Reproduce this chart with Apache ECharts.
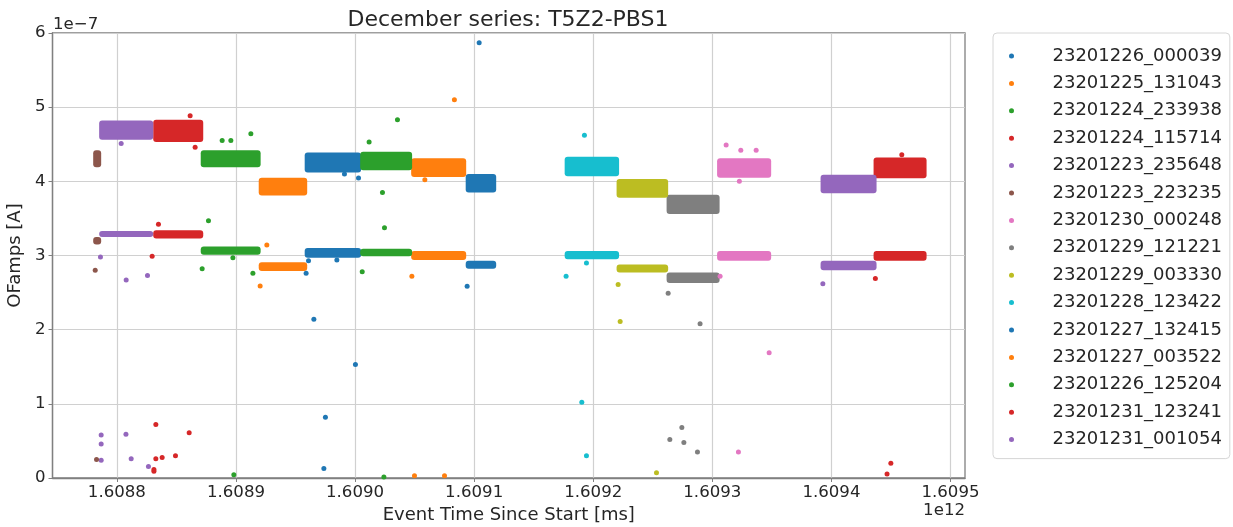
<!DOCTYPE html>
<html>
<head>
<meta charset="utf-8">
<script src="https://cdn.jsdelivr.net/npm/echarts@6.0.0/dist/echarts.min.js"></script>
<style>
  html, body { margin: 0; padding: 0; background: #ffffff; }
  #chart { width: 1233px; height: 527px; }
</style>
</head>
<body>
<div id="chart"></div>
<script>
// Run labels, in plotting / legend order
const runNames = [
  '23201226_000039', '23201225_131043', '23201224_233938', '23201224_115714',
  '23201223_235648', '23201223_223235', '23201230_000248', '23201229_121221',
  '23201229_003330', '23201228_123422', '23201227_132415', '23201227_003522',
  '23201226_125204', '23201231_123241', '23201231_001054'
];

// tab10 colour cycle
const palette = [
  '#1f77b4', '#ff7f0e', '#2ca02c', '#d62728', '#9467bd', '#8c564b', '#e377c2',
  '#7f7f7f', '#bcbd22', '#17becf', '#1f77b4', '#ff7f0e', '#2ca02c', '#d62728', '#9467bd'
];

// Time span of each run [ms]
const runStart = [
  1.6089577e12, 1.6089191e12, 1.6088704e12, 1.6088305e12, 1.6087851e12,
  1.6087801e12, 1.6093040e12, 1.6092616e12, 1.6092196e12, 1.6091760e12,
  1.6090929e12, 1.6090471e12, 1.6090043e12, 1.6094354e12, 1.6093909e12
];
const runEnd = [
  1.6090051e12, 1.6089598e12, 1.6089207e12, 1.6088725e12, 1.6088305e12,
  1.6087868e12, 1.6093494e12, 1.6093061e12, 1.6092629e12, 1.6092217e12,
  1.6091185e12, 1.6090933e12, 1.6090479e12, 1.6094799e12, 1.6094379e12
];

// Spread of the dense upper population of OF amplitudes [A]
const upperBand = [
  [4.12e-7, 4.39e-7], [3.81e-7, 4.05e-7], [4.19e-7, 4.42e-7], [4.53e-7, 4.83e-7],
  [4.56e-7, 4.82e-7], [4.19e-7, 4.42e-7], [4.05e-7, 4.31e-7], [3.56e-7, 3.82e-7],
  [3.78e-7, 4.03e-7], [4.07e-7, 4.33e-7], [3.85e-7, 4.10e-7], [4.06e-7, 4.31e-7],
  [4.15e-7, 4.40e-7], [4.04e-7, 4.32e-7], [3.84e-7, 4.09e-7]
];

// Spread of the dense lower population of OF amplitudes [A]
const lowerBand = [
  [2.97e-7, 3.10e-7], [2.79e-7, 2.91e-7], [3.01e-7, 3.12e-7], [3.23e-7, 3.34e-7],
  [3.25e-7, 3.33e-7], [3.15e-7, 3.25e-7], [2.93e-7, 3.06e-7], [2.63e-7, 2.77e-7],
  [2.77e-7, 2.88e-7], [2.95e-7, 3.06e-7], [2.82e-7, 2.93e-7], [2.94e-7, 3.06e-7],
  [2.99e-7, 3.09e-7], [2.93e-7, 3.06e-7], [2.80e-7, 2.93e-7]
];

// Isolated events away from the two populations: [time ms, amplitude A]
const strayPoints = [
  [[1.6089911e12, 4.10e-7], [1.6090029e12, 4.045e-7], [1.6089609e12, 2.93e-7],
   [1.6089589e12, 2.76e-7], [1.6089847e12, 2.94e-7], [1.6089654e12, 2.14e-7],
   [1.6090003e12, 1.53e-7], [1.6089751e12, 0.82e-7], [1.6089738e12, 0.127e-7]],
  [[1.6089259e12, 3.14e-7], [1.6089203e12, 2.59e-7]],
  [[1.6088884e12, 4.55e-7], [1.6088957e12, 4.55e-7], [1.6089125e12, 4.64e-7],
   [1.6088769e12, 3.47e-7], [1.6088974e12, 2.97e-7], [1.6088716e12, 2.82e-7],
   [1.6089142e12, 2.76e-7], [1.6088982e12, 0.045e-7]],
  [[1.6088615e12, 4.885e-7], [1.6088657e12, 4.46e-7], [1.6088349e12, 3.42e-7],
   [1.6088296e12, 2.99e-7], [1.6088327e12, 0.72e-7], [1.6088327e12, 0.26e-7],
   [1.6088380e12, 0.275e-7], [1.6088311e12, 0.113e-7], [1.6088311e12, 0.09e-7],
   [1.6088492e12, 0.30e-7], [1.6088607e12, 0.61e-7]],
  [[1.6088036e12, 4.51e-7], [1.6087862e12, 2.98e-7], [1.6088078e12, 2.67e-7],
   [1.6088257e12, 2.73e-7], [1.6087868e12, 0.58e-7], [1.6087868e12, 0.46e-7],
   [1.6087868e12, 0.24e-7], [1.6088076e12, 0.59e-7], [1.6088120e12, 0.26e-7],
   [1.6088265e12, 0.155e-7]],
  [[1.6087818e12, 2.80e-7], [1.6087829e12, 0.25e-7]],
  [[1.6093116e12, 4.49e-7], [1.6093239e12, 4.42e-7], [1.6093368e12, 4.42e-7],
   [1.6093227e12, 4.00e-7], [1.6093065e12, 2.72e-7], [1.6093477e12, 1.69e-7],
   [1.6093219e12, 0.35e-7]],
  [[1.6092629e12, 2.49e-7], [1.6092897e12, 2.08e-7], [1.6092744e12, 0.68e-7],
   [1.6092643e12, 0.52e-7], [1.6092761e12, 0.48e-7], [1.6092875e12, 0.35e-7]],
  [[1.6092209e12, 2.61e-7], [1.6092226e12, 2.11e-7], [1.6092531e12, 0.07e-7]],
  [[1.6091926e12, 4.62e-7], [1.6091772e12, 2.72e-7], [1.6091943e12, 2.90e-7],
   [1.6091904e12, 1.02e-7], [1.6091943e12, 0.30e-7]],
  [[1.6091042e12, 5.87e-7], [1.6090941e12, 2.585e-7]],
  [[1.6090834e12, 5.10e-7], [1.6090586e12, 4.02e-7], [1.6090477e12, 2.72e-7],
   [1.6090499e12, 0.03e-7], [1.6090751e12, 0.03e-7]],
  [[1.6090356e12, 4.83e-7], [1.6090118e12, 4.53e-7], [1.6090230e12, 3.85e-7],
   [1.6090247e12, 3.375e-7], [1.6090060e12, 2.78e-7], [1.6090242e12, 0.015e-7]],
  [[1.6094591e12, 4.36e-7], [1.6094369e12, 2.69e-7], [1.6094499e12, 0.20e-7],
   [1.6094467e12, 0.055e-7]],
  [[1.6093928e12, 2.62e-7]]
];

// Axis ranges and tick values
const xRange = [1.60874593e12, 1.60951217e12];
const xTicks = [1.6088e12, 1.6089e12, 1.6090e12, 1.6091e12, 1.6092e12, 1.6093e12, 1.6094e12, 1.6095e12];
const yRange = [0, 6e-7];
const yStep = 1e-7;

const FONT = 'DejaVu Sans';
const INK = '#262626';
const SPINE = '#808080';

const chart = echarts.init(document.getElementById('chart'), null, { renderer: 'canvas' });

const series = [];
runNames.forEach((name, i) => {
  const color = palette[i];
  // dense populations drawn as filled bands in data space
  series.push({
    name,
    type: 'custom',
    coordinateSystem: 'cartesian2d',
    itemStyle: { color },
    encode: { x: [0, 1], y: [2, 3] },
    data: [
      [runStart[i], runEnd[i], upperBand[i][0], upperBand[i][1]],
      [runStart[i], runEnd[i], lowerBand[i][0], lowerBand[i][1]]
    ],
    renderItem(params, api) {
      const a = api.coord([api.value(0), api.value(3)]);
      const b = api.coord([api.value(1), api.value(2)]);
      return {
        type: 'rect',
        shape: { x: a[0], y: a[1], width: b[0] - a[0], height: b[1] - a[1], r: 3 },
        style: { fill: color }
      };
    },
    silent: true
  });
  // isolated events
  series.push({
    name,
    type: 'scatter',
    symbol: 'circle',
    symbolSize: 5,
    itemStyle: { color, opacity: 1 },
    data: strayPoints[i],
    silent: true
  });
});

const option = {
  animation: false,
  backgroundColor: '#ffffff',
  grid: {
    left: 52.5, right: 268, top: 33, bottom: 49,
    containLabel: false, outerBoundsMode: 'none',
    show: true, borderColor: SPINE, borderWidth: 1.3, backgroundColor: '#ffffff'
  },
  xAxis: {
    type: 'value',
    min: xRange[0], max: xRange[1],
    name: 'Event Time Since Start [ms]',
    nameLocation: 'middle',
    nameGap: 25,
    nameTextStyle: { fontFamily: FONT, fontSize: 18, color: INK },
    axisLine: { show: true, lineStyle: { color: SPINE, width: 1.3 } },
    axisTick: { show: true, length: 4, customValues: xTicks, lineStyle: { color: SPINE, width: 1 } },
    axisLabel: {
      customValues: xTicks,
      margin: 6,
      fontFamily: FONT, fontSize: 16.6, color: INK,
      formatter: v => (v / 1e12).toFixed(4)
    },
    splitLine: { show: true, lineStyle: { color: '#d0d0d0', width: 1.2 } }
  },
  yAxis: {
    type: 'value',
    min: yRange[0], max: yRange[1], interval: yStep,
    name: 'OFamps [A]',
    nameLocation: 'middle',
    nameGap: 21,
    nameTextStyle: { fontFamily: FONT, fontSize: 18, color: INK },
    axisLine: { show: true, lineStyle: { color: SPINE, width: 1.3 } },
    axisTick: { show: true, length: 4, lineStyle: { color: SPINE, width: 1 } },
    axisLabel: {
      margin: 7,
      fontFamily: FONT, fontSize: 16.6, color: INK,
      formatter: v => String(Math.round(v / yStep))
    },
    splitLine: { show: true, lineStyle: { color: '#d0d0d0', width: 1.2 } }
  },
  legend: {
    orient: 'vertical',
    left: 993, top: 33,
    padding: [14, 8, 10, 16],
    itemWidth: 20, itemHeight: 5,
    itemGap: 9.4,
    icon: 'circle',
    borderColor: '#d6d6d6', borderWidth: 1, borderRadius: 4,
    backgroundColor: '#ffffff',
    selectedMode: false,
    textStyle: { fontFamily: FONT, fontSize: 18, color: INK, lineHeight: 18, padding: [0, 0, 0, 26] },
    data: runNames.map((n, i) => ({ name: n, icon: 'circle', itemStyle: { color: palette[i] } }))
  },
  graphic: [
    {
      type: 'text', x: 508, y: 20,
      style: {
        text: 'December series: T5Z2-PBS1',
        font: '22px "DejaVu Sans"', fill: INK,
        textAlign: 'center', textVerticalAlign: 'middle'
      }
    },
    {
      type: 'text', x: 53, y: 25,
      style: {
        text: '1e\u22127',
        font: '16.6px "DejaVu Sans"', fill: INK,
        textAlign: 'left', textVerticalAlign: 'middle'
      }
    },
    {
      type: 'text', x: 965, y: 511,
      style: {
        text: '1e12',
        font: '16.6px "DejaVu Sans"', fill: INK,
        textAlign: 'right', textVerticalAlign: 'middle'
      }
    }
  ],
  series
};

chart.setOption(option);
</script>
</body>
</html>
